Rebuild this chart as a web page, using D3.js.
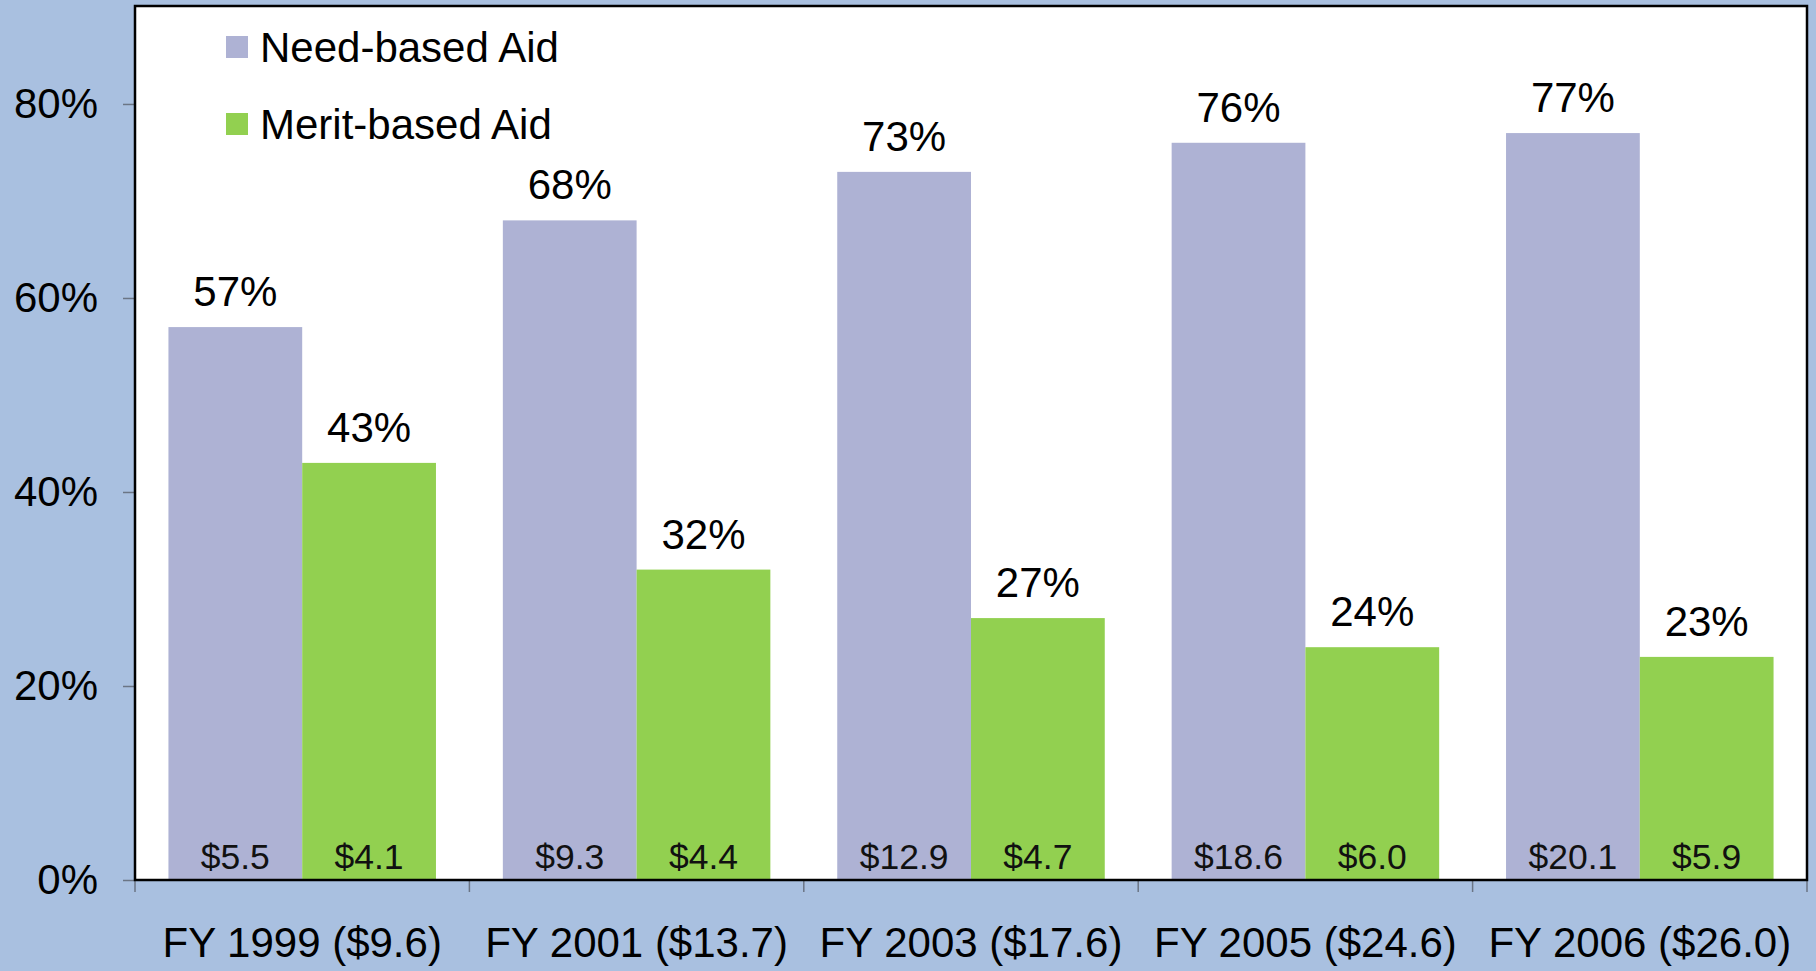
<!DOCTYPE html>
<html>
<head>
<meta charset="utf-8">
<script src="https://cdn.jsdelivr.net/npm/d3@7"></script>
<style>
  html, body { margin: 0; padding: 0; background: #a9c0e0; }
  svg { display: block; font-family: "Liberation Sans", Arial, sans-serif; }
</style>
</head>
<body>
<svg id="chart" width="1816" height="971"></svg>
<script>
const categories = ['FY 1999 ($9.6)', 'FY 2001 ($13.7)', 'FY 2003 ($17.6)', 'FY 2005 ($24.6)', 'FY 2006 ($26.0)']
const series = ['Need-based Aid', 'Merit-based Aid']
const needShare = [57, 68, 73, 76, 77]
const meritShare = [43, 32, 27, 24, 23]
const needAmount = ['$5.5', '$9.3', '$12.9', '$18.6', '$20.1']
const meritAmount = ['$4.1', '$4.4', '$4.7', '$6.0', '$5.9']
const yTicks = [0, 20, 40, 60, 80]

const colors = { 'Need-based Aid': '#aeb2d4', 'Merit-based Aid': '#92d050' }

const rows = categories.map((c, i) => ({
    cat: c,
    values: [
        { key: series[0], share: needShare[i], amount: needAmount[i] },
        { key: series[1], share: meritShare[i], amount: meritAmount[i] }
    ]
}))

const svg = d3.select('#chart')
const margin = { top: 6, right: 9, bottom: 91, left: 135 }
const width = 1816 - margin.left - margin.right
const height = 971 - margin.top - margin.bottom

const g = svg.append('g').attr('transform', `translate(${margin.left},${margin.top})`)

// plot area
g.append('rect')
    .attr('width', width).attr('height', height)
    .attr('fill', '#fff')

const x0 = d3.scaleBand().domain(categories).range([0, width])
    .paddingInner(0.2).paddingOuter(0.1)
const x1 = d3.scaleBand().domain(series).range([0, x0.bandwidth()])
const y = d3.scaleLinear().domain([0, 90.1]).range([height, 0])

const groups = g.selectAll('g.cat').data(rows).join('g')
    .attr('class', 'cat')
    .attr('transform', d => `translate(${x0(d.cat)},0)`)

groups.selectAll('rect').data(d => d.values).join('rect')
    .attr('x', d => x1(d.key))
    .attr('y', d => y(d.share))
    .attr('width', x1.bandwidth())
    .attr('height', d => y(0) - y(d.share))
    .attr('fill', d => colors[d.key])

// percentage labels
groups.selectAll('text.pct').data(d => d.values).join('text')
    .attr('class', 'pct')
    .attr('x', d => x1(d.key) + x1.bandwidth() / 2)
    .attr('y', d => y(d.share) - 21)
    .attr('text-anchor', 'middle')
    .attr('font-size', 42)
    .attr('fill', '#000')
    .text(d => d.share + '%')

// dollar amounts inside bars
groups.selectAll('text.amt').data(d => d.values).join('text')
    .attr('class', 'amt')
    .attr('x', d => x1(d.key) + x1.bandwidth() / 2)
    .attr('y', y(0) - 11)
    .attr('text-anchor', 'middle')
    .attr('font-size', 35.5)
    .attr('fill', '#111')
    .text(d => d.amount)

// y axis
const yAxis = g.append('g')
    .call(d3.axisLeft(y).tickValues(yTicks).tickFormat(d => d + '%').tickSize(12).tickPadding(25))
yAxis.select('.domain').remove()
yAxis.selectAll('.tick line').attr('stroke', '#6b7585').attr('stroke-width', 1.5)
yAxis.selectAll('.tick text').attr('font-size', 42).attr('fill', '#000')
    .attr('font-family', '"Liberation Sans", Arial, sans-serif').attr('dy', '0.32em')

// x axis: ticks at category boundaries
const xAxis = g.append('g').attr('transform', `translate(0,${height})`)
const bounds = categories.map(c => x0(c) - x0.step() * x0.paddingOuter())
bounds.push(width)
xAxis.selectAll('line').data(bounds).join('line')
    .attr('x1', d => d).attr('x2', d => d)
    .attr('y1', 0).attr('y2', 12)
    .attr('stroke', '#6b7585').attr('stroke-width', 1.5)
xAxis.selectAll('text').data(categories).join('text')
    .attr('x', d => x0(d) + x0.bandwidth() / 2)
    .attr('y', 77)
    .attr('text-anchor', 'middle')
    .attr('font-size', 42)
    .attr('fill', '#000')
    .text(d => d)

// frame
g.append('rect')
    .attr('width', width).attr('height', height)
    .attr('fill', 'none').attr('stroke', '#000').attr('stroke-width', 2.5)

// legend
const legend = g.append('g').attr('transform', 'translate(91,0)')
const items = legend.selectAll('g').data(series).join('g')
    .attr('transform', (d, i) => `translate(0,${30 + i * 77})`)
items.append('rect')
    .attr('width', 22).attr('height', 22)
    .attr('fill', d => colors[d])
items.append('text')
    .attr('x', 34).attr('y', 11).attr('dy', '0.36em')
    .attr('font-size', 42)
    .attr('fill', '#000')
    .text(d => d)
</script>
</body>
</html>
